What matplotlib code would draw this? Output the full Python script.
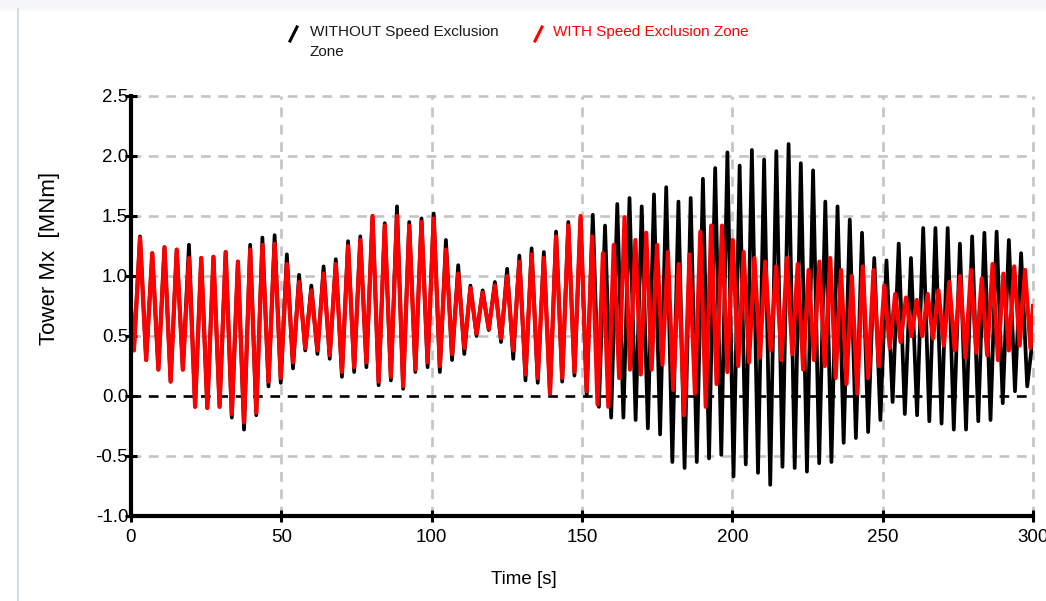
import numpy as np
import matplotlib
matplotlib.use("Agg")
import matplotlib.pyplot as plt
from matplotlib.lines import Line2D
from matplotlib.patches import Rectangle

plt.rcParams['lines.scale_dashes'] = False

# ---------------- data ----------------
# WITHOUT speed exclusion zone: one peak and one trough per oscillation cycle
black_period = 4.07          # s
black_first_peak = 3.0       # s
black_start = 0.75
black_first_trough = 0.38
black_end = 0.5
black_peaks = [1.33, 1.19, 1.24, 1.22, 1.26, 1.15, 1.16, 1.20, 1.12, 1.26,
               1.32, 1.34, 1.18, 1.01, 0.92, 1.08, 1.14, 1.29, 1.33, 1.50,
               1.44, 1.58, 1.45, 1.48, 1.52, 1.30, 1.09, 0.92, 0.88, 0.95,
               1.06, 1.17, 1.23, 1.20, 1.37, 1.45, 1.48, 1.51, 1.42, 1.60,
               1.65, 1.58, 1.68, 1.74, 1.62, 1.65, 1.81, 1.90, 2.03, 1.92,
               2.05, 1.97, 2.04, 2.10, 1.94, 1.88, 1.62, 1.58, 1.47, 1.36,
               1.15, 1.13, 1.27, 1.15, 1.40, 1.40, 1.40, 1.27, 1.33, 1.36,
               1.37, 1.30, 1.19]
black_troughs = [0.30, 0.22, 0.12, 0.22, -0.09, -0.10, -0.09, -0.18, -0.28, -0.16,
                 0.08, 0.11, 0.23, 0.38, 0.35, 0.31, 0.16, 0.20, 0.24, 0.09,
                 0.13, 0.06, 0.20, 0.24, 0.20, 0.30, 0.35, 0.50, 0.55, 0.45,
                 0.31, 0.13, 0.11, 0.02, 0.12, 0.17, 0.00, -0.09, -0.18, -0.18,
                 -0.20, -0.27, -0.32, -0.55, -0.60, -0.55, -0.52, -0.49, -0.67, -0.57,
                 -0.64, -0.74, -0.59, -0.60, -0.63, -0.56, -0.55, -0.39, -0.35, -0.30,
                 -0.20, -0.05, -0.15, -0.16, -0.21, -0.23, -0.28, -0.28, -0.21, -0.20,
                 -0.06, 0.04, 0.08]

# WITH speed exclusion zone: first part on the same cycle grid, then faster cycles
red_start = 0.72
red_first_trough = 0.38
red_end = 0.75
red_peaks_a = [1.32, 1.19, 1.24, 1.22, 1.15, 1.15, 1.16, 1.20, 1.12, 1.22,
               1.26, 1.27, 1.10, 0.95, 0.88, 1.02, 1.10, 1.25, 1.30, 1.50,
               1.42, 1.50, 1.42, 1.45, 1.48, 1.22, 1.02, 0.90, 0.86, 0.92,
               1.00, 1.12, 1.18, 1.15, 1.33, 1.42, 1.50]
red_troughs_a = [0.30, 0.22, 0.12, 0.22, -0.09, -0.10, -0.09, -0.15, -0.22, -0.14,
                 0.12, 0.15, 0.28, 0.40, 0.38, 0.34, 0.20, 0.24, 0.28, 0.12,
                 0.16, 0.08, 0.22, 0.28, 0.25, 0.35, 0.40, 0.52, 0.56, 0.48,
                 0.38, 0.18, 0.15, 0.02, 0.15, 0.20, 0.04]
red_period_b = 3.6           # s
red_peaks_b = [1.33, 1.19, 1.26, 1.49, 1.30, 1.36, 1.26, 1.20, 1.10, 1.18,
               1.37, 1.42, 1.42, 1.30, 1.20, 1.15, 1.12, 1.08, 1.15, 1.10,
               1.05, 1.12, 1.15, 1.05, 1.00, 1.08, 1.05, 0.92, 0.85, 0.82,
               0.80, 0.85, 0.88, 0.95, 1.00, 1.05, 0.98, 1.10, 1.02, 1.08,
               1.05]
red_troughs_b = [-0.07, -0.09, 0.15, 0.22, 0.18, 0.22, 0.26, 0.05, -0.16, 0.02,
                 -0.09, 0.10, 0.20, 0.25, 0.28, 0.32, 0.38, 0.30, 0.35, 0.22,
                 0.30, 0.25, 0.15, 0.10, 0.02, 0.15, 0.25, 0.40, 0.45, 0.50,
                 0.50, 0.48, 0.42, 0.38, 0.32, 0.36, 0.34, 0.30, 0.38, 0.42,
                 0.40]

x_ticks = [0, 50, 100, 150, 200, 250, 300]
y_ticks = [-1.0, -0.5, 0.0, 0.5, 1.0, 1.5, 2.0, 2.5]
label_without = "WITHOUT Speed Exclusion\nZone"
label_with = "WITH Speed Exclusion Zone"


def zigzag(first_peak, period, peaks, troughs):
    k = np.arange(len(peaks))
    tp = first_peak + k * period
    tt = tp + period / 2.0
    t = np.empty(2 * len(peaks))
    v = np.empty(2 * len(peaks))
    t[0::2], t[1::2] = tp, tt
    v[0::2], v[1::2] = peaks, troughs
    return t, v


# black series
bt, bv = zigzag(black_first_peak, black_period, black_peaks, black_troughs)
bt = np.concatenate([[0.0, black_first_peak - black_period / 2], bt, [300.0]])
bv = np.concatenate([[black_start, black_first_trough], bv, [black_end]])

# red series
rta, rva = zigzag(black_first_peak, black_period, red_peaks_a, red_troughs_a)
rtb, rvb = zigzag(rta[-1] + red_period_b / 2, red_period_b, red_peaks_b, red_troughs_b)
rt = np.concatenate([[0.0, black_first_peak - black_period / 2], rta, rtb, [300.0]])
rv = np.concatenate([[red_start, red_first_trough], rva, rvb, [red_end]])

# ---------------- figure ----------------
W, H = 1046, 601
fig = plt.figure(figsize=(W / 100, H / 100), dpi=100)
ax = fig.add_axes([131 / W, 1 - 516 / H, (1033 - 131) / W, (516 - 96) / H])

# screenshot frame
fig.add_artist(Rectangle((0, 1 - 9 / H), 1, 9 / H, transform=fig.transFigure,
                         color='#f6f7f9', zorder=0))
fig.add_artist(Line2D([18 / W, 18 / W], [0, 1 - 9 / H], transform=fig.transFigure,
                      color='#c9d5e4', lw=1.2))

ax.set_xlim(0, 300)
ax.set_ylim(-1.0, 2.5)

grid_kw = dict(color='#c4c4c4', lw=1.9, dashes=(7, 5.5), zorder=1, clip_on=False)
for yv in y_ticks:
    if yv not in (-1.0, 0.0):
        ax.axhline(yv, **grid_kw)
for xv in x_ticks:
    if xv != 0:
        ax.axvline(xv, **grid_kw)
ax.axhline(0.0, color='black', lw=1.9, dashes=(7, 5.5), zorder=2)

ax.plot(bt, bv, color='black', lw=2.7, zorder=3)
ax.plot(rt, rv, color='#ff0000', lw=3.0, zorder=4)

for s in ['top', 'right']:
    ax.spines[s].set_visible(False)
for s in ['left', 'bottom']:
    ax.spines[s].set_linewidth(3.0)
    ax.spines[s].set_zorder(5)

ax.set_xticks(x_ticks)
ax.set_yticks(y_ticks)
ax.set_yticklabels([f"{v:.1f}" for v in y_ticks])
ax.tick_params(axis='both', direction='inout', length=9, width=2.2, color='black')
ax.tick_params(axis='y', pad=-2.5, labelsize=13.5)
ax.tick_params(axis='x', pad=5, labelsize=13.5)
for lab in ax.get_yticklabels() + ax.get_xticklabels():
    lab.set_family(['Liberation Sans', 'DejaVu Sans'])

ax.set_xlabel("Time [s]", fontsize=13.5, family=['Liberation Sans', 'DejaVu Sans'])
ax.xaxis.set_label_coords((524 - 131) / 902, -(580 - 516) / 420)
ax.xaxis.label.set_va('center')
ax.set_ylabel("Tower Mx  [MNm]", fontsize=16, family=['Liberation Sans', 'DejaVu Sans'])
ax.yaxis.set_label_coords((50 - 131) / 902, (516 - 258) / 420)
ax.yaxis.label.set_va('center')

# legend
def px(x, y):
    return x / W, 1 - y / H

fig.add_artist(Line2D([px(290, 0)[0], px(297, 0)[0]], [px(0, 41)[1], px(0, 27)[1]],
                      transform=fig.transFigure, color='black', lw=2.2))
fig.add_artist(Line2D([px(535, 0)[0], px(542, 0)[0]], [px(0, 41)[1], px(0, 27)[1]],
                      transform=fig.transFigure, color='#ff0000', lw=2.2))
leg_font = ['Liberation Sans', 'DejaVu Sans']
fig.text(*px(310, 25), label_without, fontsize=11, family=leg_font, color='#1a1a1a',
         va='top', ha='left', linespacing=1.55)
fig.text(*px(553, 25), label_with, fontsize=11, family=leg_font, color='#ff0000',
         va='top', ha='left')

fig.savefig("out.png", dpi=100, facecolor='white')
